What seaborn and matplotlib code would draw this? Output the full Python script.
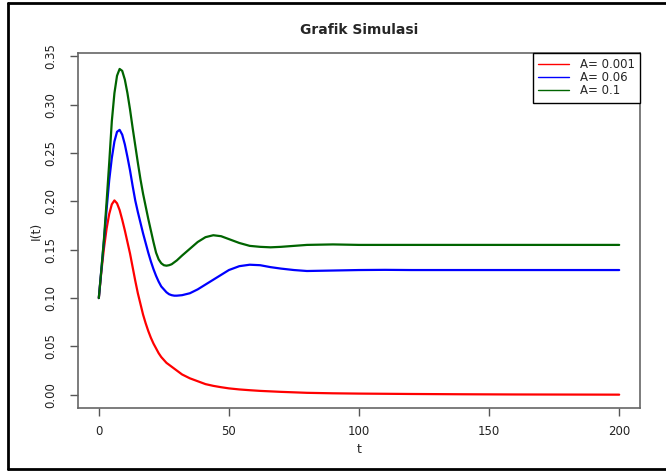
import pandas as pd
import seaborn as sns
import matplotlib.pyplot as plt
from matplotlib.lines import Line2D

# values
t = list(range(0, 31)) + [32, 35, 38, 41, 44, 47, 50, 54, 58, 62, 66, 70, 75, 80,
                          90, 100, 110, 120, 140, 160, 180, 200]
i_a001 = [0.100, 0.128, 0.152, 0.172, 0.187, 0.197, 0.201, 0.198, 0.191, 0.181, 0.170,
          0.158, 0.146, 0.132, 0.118, 0.105, 0.094, 0.083, 0.074, 0.066, 0.059, 0.053,
          0.048, 0.043, 0.039, 0.036, 0.033, 0.031, 0.029, 0.027, 0.025,
          0.021, 0.017, 0.014, 0.011, 0.0092, 0.0078, 0.0066, 0.0055, 0.0047, 0.004,
          0.0035, 0.003, 0.0025, 0.002, 0.0015, 0.0012, 0.001, 0.0008, 0.0005, 0.0003,
          0.0002, 0.0001]
i_a06 = [0.100, 0.130, 0.160, 0.192, 0.222, 0.245, 0.262, 0.272, 0.274, 0.269, 0.259,
         0.246, 0.232, 0.216, 0.201, 0.189, 0.178, 0.167, 0.157, 0.147, 0.138, 0.130,
         0.123, 0.117, 0.112, 0.109, 0.106, 0.104, 0.103, 0.1025, 0.1025,
         0.103, 0.105, 0.109, 0.114, 0.119, 0.124, 0.129, 0.133, 0.1345, 0.134,
         0.132, 0.1305, 0.129, 0.128, 0.1285, 0.129, 0.1292, 0.129, 0.129, 0.129,
         0.129, 0.129]
i_a1 = [0.100, 0.130, 0.162, 0.200, 0.240, 0.283, 0.312, 0.330, 0.337, 0.335, 0.326,
        0.312, 0.295, 0.276, 0.258, 0.240, 0.223, 0.208, 0.195, 0.182, 0.170, 0.158,
        0.147, 0.140, 0.136, 0.134, 0.1335, 0.134, 0.135, 0.137, 0.139,
        0.144, 0.151, 0.158, 0.163, 0.165, 0.164, 0.161, 0.157, 0.154, 0.153,
        0.1525, 0.153, 0.154, 0.155, 0.1555, 0.155, 0.155, 0.155, 0.155, 0.155,
        0.155, 0.155]
labels = ["A= 0.001", "A= 0.06", "A= 0.1"]
colors = ["red", "blue", "darkgreen"]

df = pd.concat([
    pd.DataFrame({"t": t, "I": v, "A": lab})
    for v, lab in zip([i_a001, i_a06, i_a1], labels)
])

sns.set_style("white")
plt.rcParams["font.family"] = ["DejaVu Sans"]

fig = plt.figure(figsize=(6.66, 4.71), dpi=100)
ax = fig.add_axes([78 / 666, 1 - 408 / 471, (640 - 78) / 666, (408 - 53) / 471])

sns.lineplot(data=df, x="t", y="I", hue="A", palette=colors, linewidth=1.6, ax=ax)

ax.set_xlim(-8, 208)
ax.set_ylim(-0.0137, 0.3535)
ax.set_xticks([0, 50, 100, 150, 200])
ax.set_yticks([0.0, 0.05, 0.10, 0.15, 0.20, 0.25, 0.30, 0.35])
ax.set_yticklabels(["0.00", "0.05", "0.10", "0.15", "0.20", "0.25", "0.30", "0.35"],
                   rotation=90, va="center")
ax.tick_params(axis="both", direction="out", length=6, width=1, color="#555555",
               labelsize=8.5, labelcolor="#222222", left=True, bottom=True)
ax.tick_params(axis="y", pad=9)
ax.tick_params(axis="x", pad=6)
for s in ax.spines.values():
    s.set_color("#666666")
    s.set_linewidth(1.2)

ax.set_xlabel("t", fontsize=9, labelpad=4)
ax.set_ylabel("I(t)", fontsize=9, labelpad=1)
ax.set_title("Grafik Simulasi", fontsize=10, fontweight="bold", pad=14)

leg = ax.legend(loc="upper right", fancybox=False, edgecolor="black", framealpha=1,
                borderaxespad=0, fontsize=8.5, handlelength=2.6, handletextpad=0.9,
                labelspacing=0.0, borderpad=0.45)
leg.get_frame().set_linewidth(1)
for h in leg.get_lines():
    h.set_linewidth(1)

# outer screenshot frame (left, top, bottom edges only)
for xs, ys in [([8, 8], [3, 469]), ([8, 666], [3, 3]), ([8, 666], [469, 469])]:
    fig.add_artist(Line2D([x / 666 for x in xs], [1 - y / 471 for y in ys],
                          transform=fig.transFigure, color="black", linewidth=2))

fig.savefig("out.png", dpi=100)
